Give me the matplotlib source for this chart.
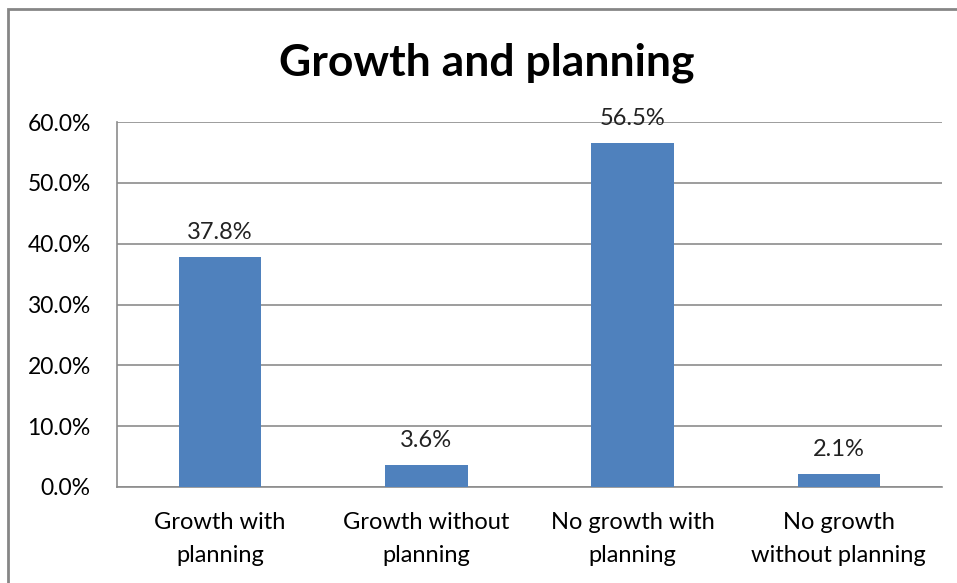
import numpy as np
import matplotlib.pyplot as plt
from matplotlib.patches import Rectangle
from matplotlib.ticker import FuncFormatter

categories = ["Growth with\nplanning", "Growth without\nplanning",
              "No growth with\nplanning", "No growth\nwithout planning"]
shares = [37.8, 3.6, 56.5, 2.1]   # percent of respondents
y_ticks = [0, 10, 20, 30, 40, 50, 60]

plt.rcParams['font.family'] = ['Lato', 'DejaVu Sans']

fig = plt.figure(figsize=(9.57, 5.83), dpi=100)
ax = fig.add_axes([0.1223, 0.1647, 0.862, 0.626])

x = np.arange(len(categories))
bars = ax.bar(x, shares, width=0.4, color='#4F81BD', zorder=3)

for xi, v in zip(x, shares):
    ax.annotate("%.1f%%" % v, (xi, v), xytext=(0, 10), textcoords='offset points',
                ha='center', va='bottom', fontsize=17, color='#222222', zorder=4)

ax.set_xlim(-0.5, len(categories) - 0.5)
ax.set_ylim(0, 60)
ax.set_yticks(y_ticks)
ax.yaxis.set_major_formatter(FuncFormatter(lambda v, p: "%.1f%%" % v))
ax.set_xticks(x)
ax.set_xticklabels(categories, fontsize=17, linespacing=1.68)
ax.tick_params(axis='y', length=0, pad=19, labelsize=16.5)
ax.tick_params(axis='x', length=0, pad=18)
ax.grid(axis='y', color='#8c8c8c', linewidth=1.2, zorder=0)

for side in ['top', 'right']:
    ax.spines[side].set_visible(False)
for side in ['left', 'bottom']:
    ax.spines[side].set_color('#8c8c8c')
    ax.spines[side].set_linewidth(1.2)

fig.text(0.509, 0.892, "Growth and planning", ha='center', va='center',
         fontsize=32, fontweight='bold')

# outer chart frame, running off the right and bottom edges
fig.patches.append(Rectangle((8 / 957, -0.05), 1.0, 1 - 9 / 583 + 0.05,
                             transform=fig.transFigure, fill=False,
                             edgecolor='#868686', linewidth=2))

fig.savefig('out.png', dpi=100)
